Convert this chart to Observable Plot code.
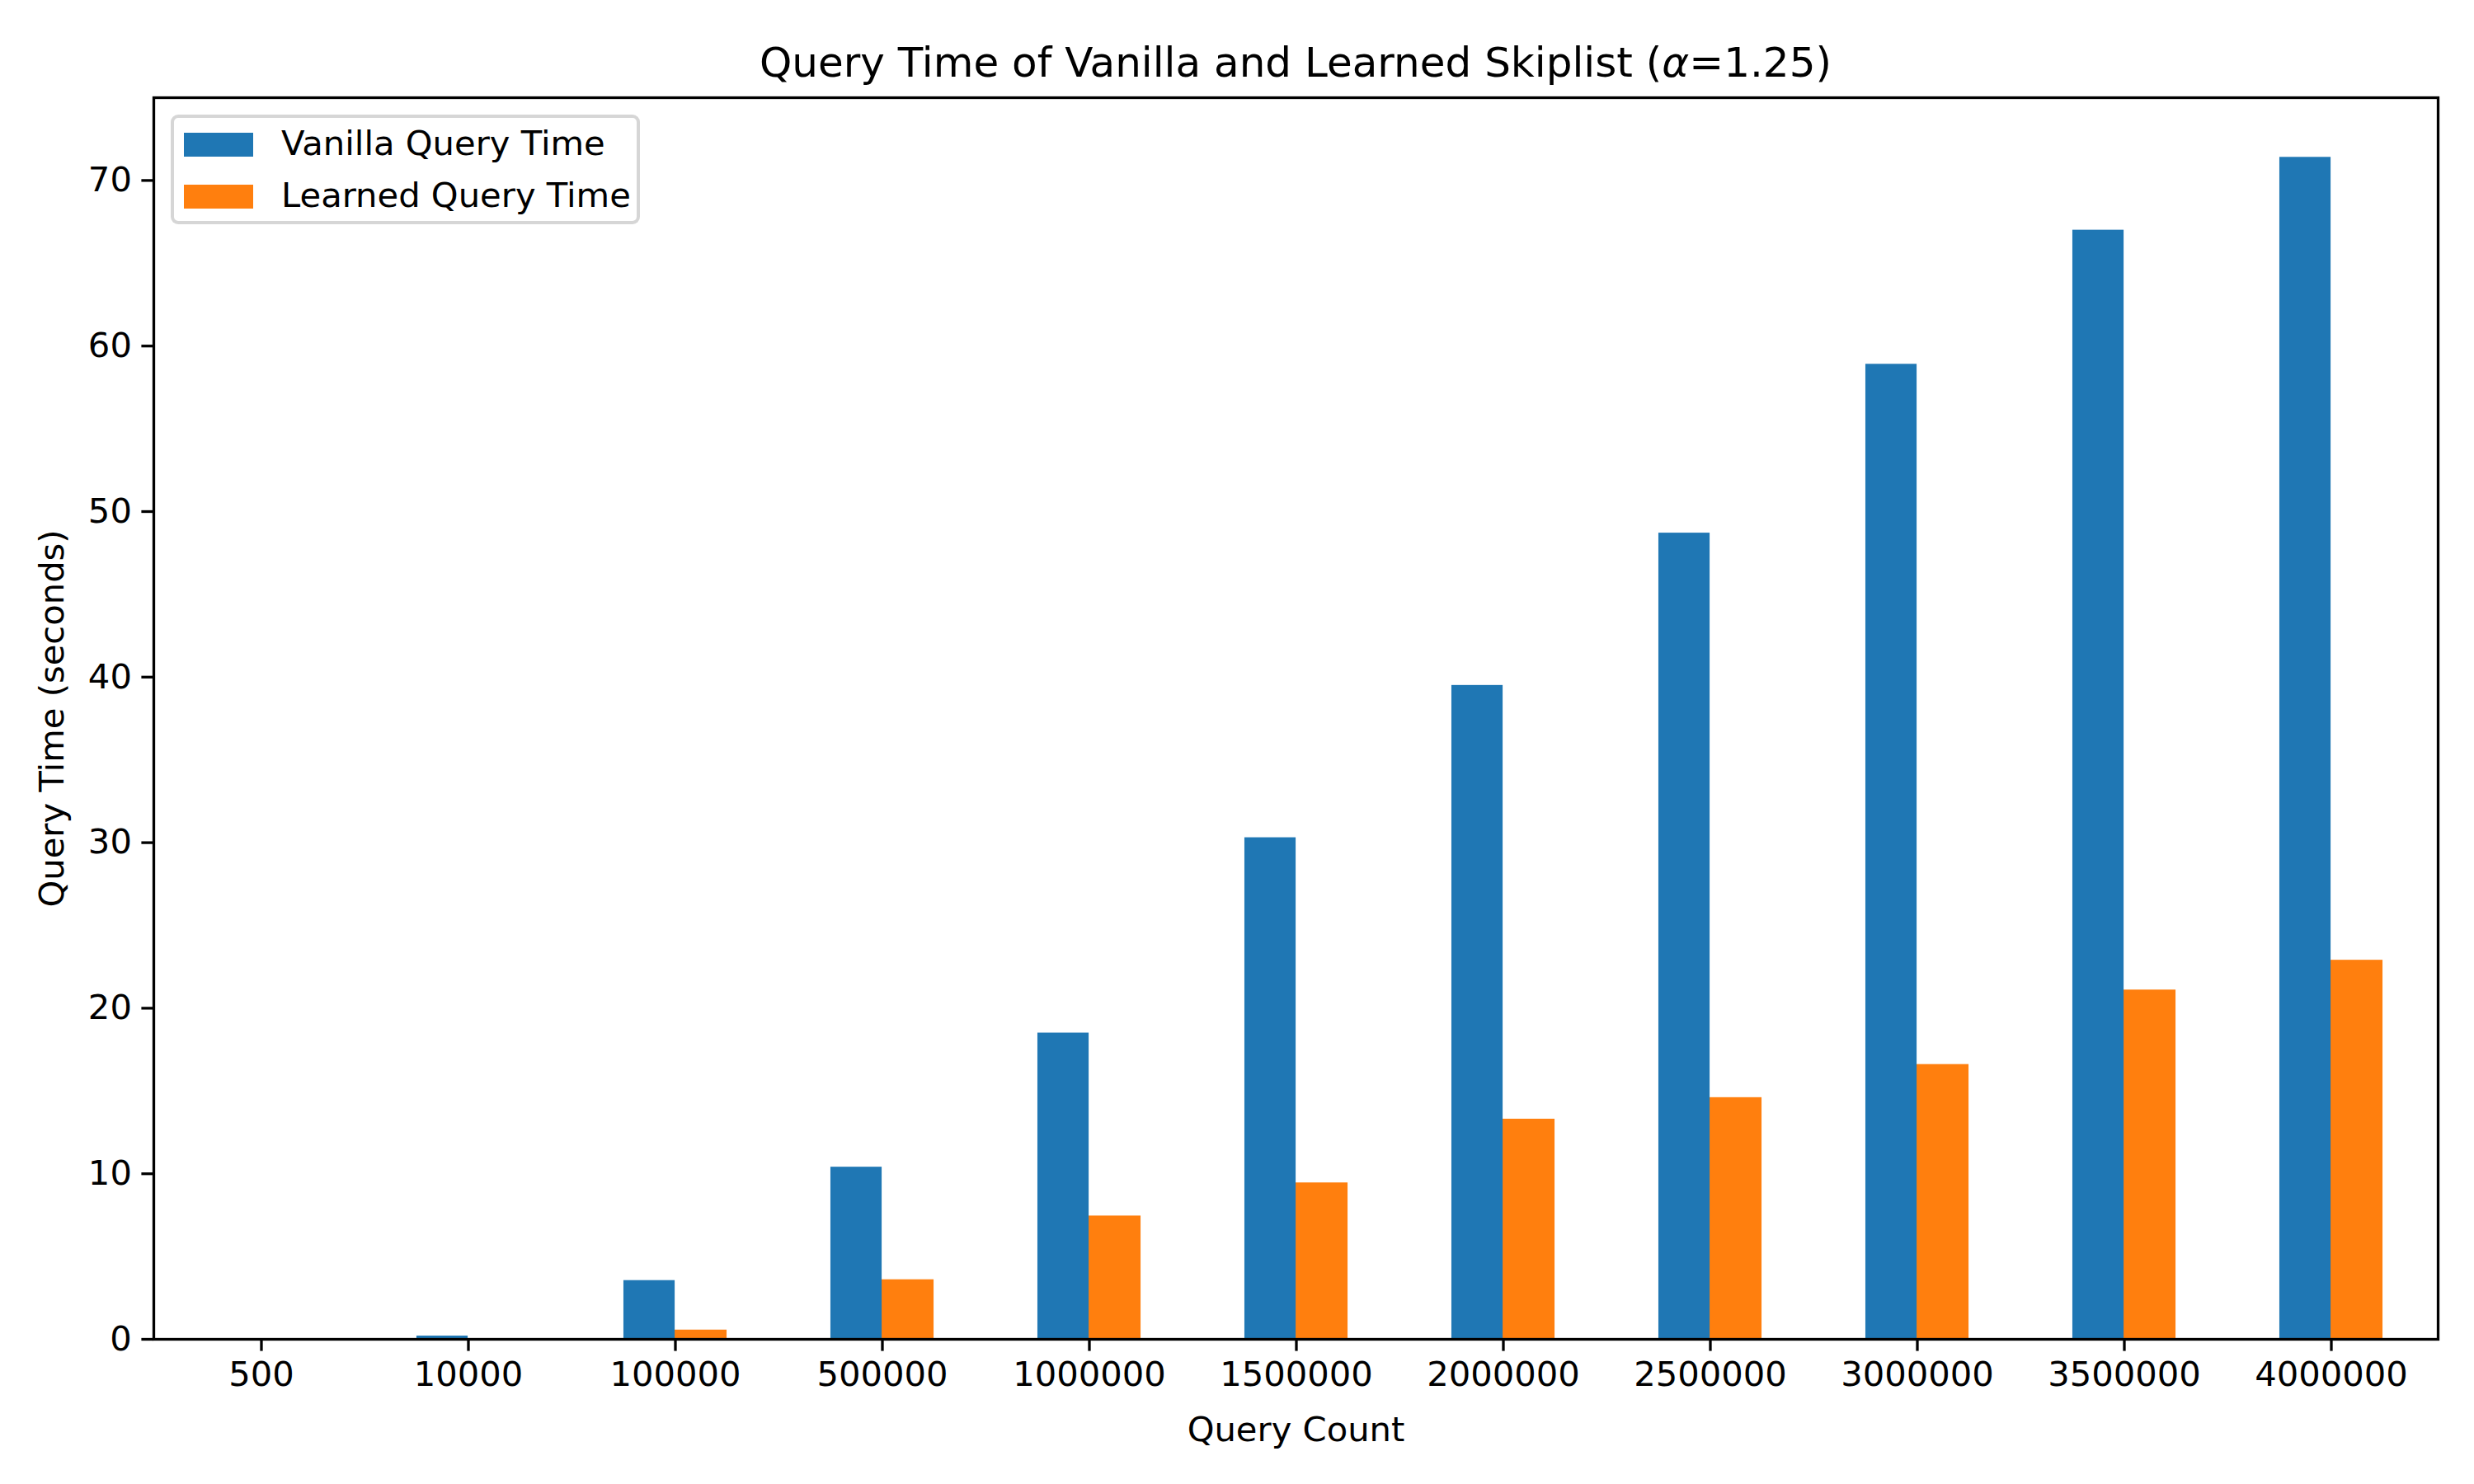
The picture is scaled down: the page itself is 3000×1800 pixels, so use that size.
<!DOCTYPE html>
<html>
<head>
<meta charset="utf-8">
<script src="https://cdn.jsdelivr.net/npm/d3@7"></script>
<script src="https://cdn.jsdelivr.net/npm/@observablehq/plot@0.6"></script>
<style>
  html, body { margin: 0; padding: 0; background: white; }
  #wrap { position: relative; width: 3000px; height: 1800px; font-family: "DejaVu Sans", sans-serif; color: black; }
  #title { position: absolute; left: 186px; width: 2770px; top: 46px; text-align: center; font-size: 50px; line-height: 60px; white-space: nowrap; }
  #legend { position: absolute; left: 207px; top: 139px; width: 569px; height: 133px; box-sizing: border-box;
            border: 4px solid rgba(204,204,204,0.8); border-radius: 9px; background: rgba(255,255,255,0.8); }
  .row { position: absolute; left: 0; height: 42px; font-size: 41.7px; line-height: 42px; white-space: nowrap; }
  .sw { position: absolute; left: 12px; top: 6px; width: 84px; height: 29px; }
  .lbl { position: absolute; left: 130px; top: -2px; }
  #chart { position: absolute; left: 0; top: 0; }
</style>
</head>
<body>
<div id="wrap">
  <div id="chart"></div>
  <div id="title"></div>
  <div id="legend"></div>
</div>
<script>
const categories = ["500", "10000", "100000", "500000", "1000000", "1500000", "2000000", "2500000", "3000000", "3500000", "4000000"];
const vanilla = [0.0, 0.2, 3.55, 10.4, 18.5, 30.3, 39.5, 48.7, 58.9, 67.0, 71.4];
const learned = [0.0, 0.02, 0.56, 3.6, 7.45, 9.45, 13.3, 14.6, 16.6, 21.1, 22.9];
const yTicks = [0, 10, 20, 30, 40, 50, 60, 70];
const seriesNames = ["Vanilla Query Time", "Learned Query Time"];
const seriesColors = ["#1f77b4", "#ff7f0e"];
const titleText = "Query Time of Vanilla and Learned Skiplist (";
const xLabel = "Query Count";
const yLabel = "Query Time (seconds)";

const W = 3000, H = 1800;
const mL = 186, mR = 44, mT = 118, mB = 176;
const bw = (W - mL - mR) / categories.length;

const rowsV = categories.map((c, i) => ({cat: c, value: vanilla[i]}));
const rowsL = categories.map((c, i) => ({cat: c, value: learned[i]}));

const plot = Plot.plot({
  width: W,
  height: H,
  marginLeft: mL,
  marginRight: mR,
  marginTop: mT,
  marginBottom: mB,
  style: {fontFamily: "DejaVu Sans", fontSize: "41.7px", background: "white", color: "black", overflow: "visible"},
  x: {type: "band", domain: categories, padding: 0},
  y: {domain: [0, 75]},
  marks: [
    // learned drawn first, tucked 2px under the vanilla bar so no seam shows between them
    Plot.barY(rowsL, {x: "cat", y: "value", fill: seriesColors[1], insetLeft: bw * 0.5 - 2, insetRight: bw * 0.25}),
    Plot.barY(rowsV, {x: "cat", y: "value", fill: seriesColors[0], insetLeft: bw * 0.25, insetRight: bw * 0.5}),
    Plot.frame({stroke: "black", strokeWidth: 3.3}),
    Plot.axisX({tickSize: 14.6, tickPadding: 12, strokeWidth: 3.3, fontSize: 41.7,
      label: xLabel, labelAnchor: "center", labelOffset: 123, labelArrow: "none"}),
    Plot.axisY({ticks: yTicks, tickSize: 14.6, tickPadding: 12, strokeWidth: 3.3, fontSize: 41.7,
      label: yLabel, labelAnchor: "center", labelOffset: 139, labelArrow: "none"})
  ]
});
document.getElementById("chart").appendChild(plot);

const t = document.getElementById("title");
t.appendChild(document.createTextNode(titleText));
const a = document.createElement("i");
a.textContent = "α";
t.appendChild(a);
t.appendChild(document.createTextNode("=1.25)"));

const leg = document.getElementById("legend");
seriesNames.forEach((name, i) => {
  const row = document.createElement("div");
  row.className = "row";
  row.style.top = (12 + i * 63) + "px";
  const sw = document.createElement("div");
  sw.className = "sw";
  sw.style.background = seriesColors[i];
  const lb = document.createElement("div");
  lb.className = "lbl";
  lb.textContent = name;
  row.appendChild(sw);
  row.appendChild(lb);
  leg.appendChild(row);
});
</script>
</body>
</html>
